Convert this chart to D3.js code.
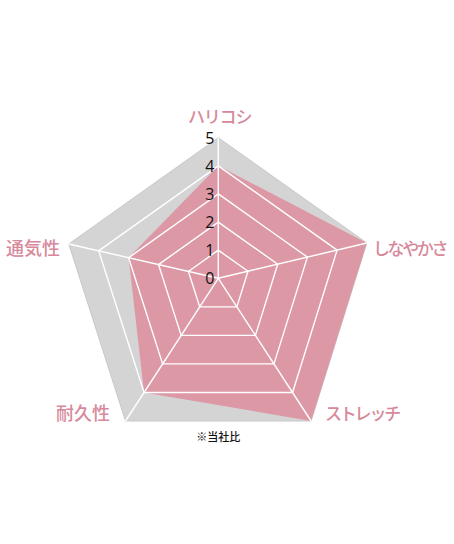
<!DOCTYPE html>
<html><head><meta charset="utf-8">
<script src="https://cdn.jsdelivr.net/npm/d3@7"></script>
<style>html,body{margin:0;padding:0;background:#fff;}</style>
</head><body>
<svg id="c" width="454" height="544"></svg>
<script>
const categories = ["ハリコシ", "しなやかさ", "ストレッチ", "耐久性", "通気性"];
const values = [4, 5, 5, 4, 3];
const tickLabels = [0, 1, 2, 3, 4, 5];
const note = "※当社比";

const W = 454, H = 544;
const cx = 218.3, cy = 278.3;
// direction vectors (pixel offset at max value) - chart is drawn slightly stretched
const axisEnds = [[0, -140.6], [148.5, -35.3], [92.8, 142.7], [-92.8, 142.7], [-149.5, -34.3]];
const r = d3.scaleLinear().domain([0, 5]).range([0, 1]);
const svg = d3.select("#c");
const pt = (i, v) => [cx + axisEnds[i][0] * r(v), cy + axisEnds[i][1] * r(v)];
const line = d3.line().curve(d3.curveLinearClosed);

// outer background
svg.append("path").attr("d", line(categories.map((c, i) => pt(i, 5))))
  .attr("fill", "#d4d4d4").attr("stroke", "#c8c8c8").attr("stroke-width", 1);
// data area
svg.append("path").attr("d", line(values.map((v, i) => pt(i, v))))
  .attr("fill", "#dd98a6");
// grid
tickLabels.slice(1, -1).forEach(t => {
  svg.append("path").attr("d", line(categories.map((c, i) => pt(i, t))))
    .attr("fill", "none").attr("stroke", "#fff").attr("stroke-width", 1.4);
});
categories.forEach((c, i) => {
  const [x, y] = pt(i, 5);
  svg.append("line").attr("x1", cx).attr("y1", cy).attr("x2", x).attr("y2", y)
    .attr("stroke", "#fff").attr("stroke-width", 1.4);
});
// tick labels
tickLabels.forEach(t => {
  svg.append("text").attr("x", cx - 4).attr("y", pt(0, t)[1])
    .attr("text-anchor", "end").attr("dominant-baseline", "central")
    .attr("font-family", "'Open Sans', 'DejaVu Sans', sans-serif").attr("font-size", 16)
    .attr("fill", "#111").text(t);
});
// category labels
const labelPos = [
  {x: 188, y: 115, fs: 17, ls: -1.2},
  {x: 373, y: 247, fs: 17, ls: -2.4},
  {x: 325, y: 412, fs: 17, ls: -2.2},
  {x: 56, y: 412, fs: 18, ls: 0},
  {x: 6, y: 247, fs: 18, ls: 0}
];
categories.forEach((c, i) => {
  svg.append("text").attr("x", labelPos[i].x).attr("y", labelPos[i].y)
    .attr("text-anchor", "start").attr("dominant-baseline", "central")
    .attr("letter-spacing", labelPos[i].ls)
    .attr("font-family", "'Noto Sans CJK JP', sans-serif").attr("font-size", labelPos[i].fs)
    .attr("font-weight", 500)
    .attr("fill", "#d7899b").text(c);
});
svg.append("text").attr("x", cx).attr("y", 436)
  .attr("text-anchor", "middle").attr("dominant-baseline", "central")
  .attr("font-family", "'Noto Sans CJK JP', sans-serif").attr("font-size", 11)
  .attr("font-weight", 500).attr("fill", "#111").text(note);
</script>
</body></html>
